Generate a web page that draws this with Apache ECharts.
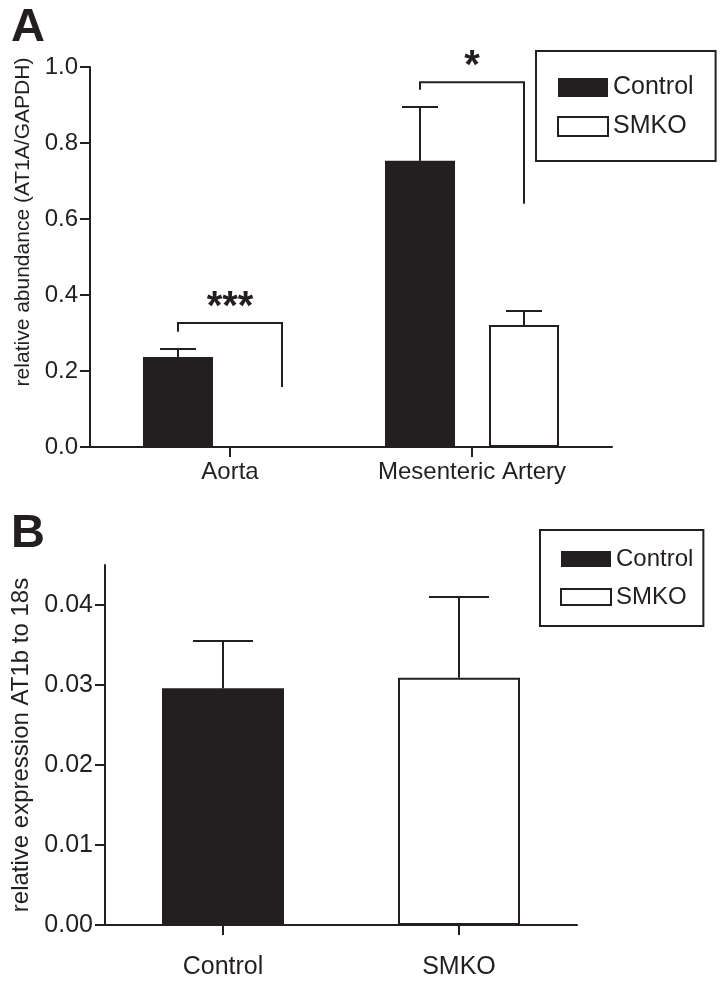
<!DOCTYPE html>
<html><head><meta charset="utf-8">
<script src="https://cdn.jsdelivr.net/npm/echarts@6/dist/echarts.min.js"></script>
<style>html,body{margin:0;padding:0;background:#fff}#c{width:726px;height:987px}</style>
</head><body><div id="c"></div>
<script>
// ---------- Panel A data ----------
const categoriesA = ['Aorta', 'Mesenteric Artery'];
const controlA = [0.237, 0.753];
const controlErrA = [0.258, 0.895];
const smkoA = [0, 0.321];
const smkoErrA = [null, 0.358];
const bracketTopA = [0.326, 0.96];
const bracketLeftEndA = [0.303, 0.94];
const bracketRightEndA = [0.158, 0.64];
const starsA = ['***', '*'];
const yTicksA = [0, 0.2, 0.4, 0.6, 0.8, 1.0];

// ---------- Panel B data ----------
const categoriesB = ['Control', 'SMKO'];
const valuesB = [0.0296, 0.0309];
const errB = [0.0355, 0.0410];
const yTicksB = [0, 0.01, 0.02, 0.03, 0.04];

const INK = '#231f20';
const FONT = '"Liberation Sans", Arial, Helvetica, sans-serif';

// style constants
const BAR_W_A = 70, GAP_A = 34;
const OFF_A = (BAR_W_A + GAP_A) / 2;
const CAP_A = 18;
const BAR_W_B = 122, CAP_B = 30;

function errRenderer(offset, capHalf) {
  return function (params, api) {
    const x = api.value(0), v = api.value(1), e = api.value(2);
    if (isNaN(e)) return null;
    const base = api.coord([x, v]);
    const top = api.coord([x, e]);
    const cx = base[0] + offset;
    return {
      type: 'group', children: [
        { type: 'line', shape: { x1: cx, y1: base[1], x2: cx, y2: top[1] }, style: { stroke: INK, lineWidth: 2 } },
        { type: 'line', shape: { x1: cx - capHalf, y1: top[1], x2: cx + capHalf, y2: top[1] }, style: { stroke: INK, lineWidth: 2 } }
      ]
    };
  };
}

function bracketRenderer(params, api) {
  const x = api.value(0);
  const pTop = api.coord([x, api.value(1)]);
  const pL = api.coord([x, api.value(2)]);
  const pR = api.coord([x, api.value(3)]);
  const xl = pTop[0] - OFF_A, xr = pTop[0] + OFF_A;
  return {
    type: 'group', children: [
      { type: 'polyline', shape: { points: [[xl, pL[1]], [xl, pTop[1]], [xr, pTop[1]], [xr, pR[1]]] },
        style: { stroke: INK, lineWidth: 2, fill: null } },
      { type: 'text', style: { x: (xl + xr) / 2, y: pTop[1] - 15, text: starsA[params.dataIndex],
        fill: INK, font: 'bold 40px ' + FONT, align: 'center', verticalAlign: 'middle' } }
    ]
  };
}

const chart = echarts.init(document.getElementById('c'), null, { renderer: 'canvas' });

const axisLineStyle = { show: true, onZero: false, lineStyle: { color: INK, width: 2 } };
const tickStyle = { show: true, length: 10, lineStyle: { color: INK, width: 2 } };

const option = {
  animation: false,
  backgroundColor: '#fff',
  title: [
    { text: 'A', left: 6, top: 0, textStyle: { fontSize: 47, fontWeight: 'bold', color: INK, fontFamily: FONT } },
    { text: 'B', left: 6, top: 506, textStyle: { fontSize: 47, fontWeight: 'bold', color: INK, fontFamily: FONT } }
  ],
  legend: [
    {
      left: 536, top: 51, orient: 'vertical', data: ['Control', 'SMKO'], icon: 'rect',
      itemWidth: 50, itemHeight: 19, itemGap: 14,
      borderColor: INK, borderWidth: 2, padding: [24, 22, 22, 21],
      textStyle: { fontSize: 25, color: INK, fontFamily: FONT },
      selectedMode: false
    },
    {
      left: 540, top: 530, orient: 'vertical', data: ['Control', 'SMKO'], icon: 'rect',
      itemWidth: 50, itemHeight: 16, itemGap: 14,
      borderColor: INK, borderWidth: 2, padding: [17, 10, 17, 20],
      textStyle: { fontSize: 24, color: INK, fontFamily: FONT },
      selectedMode: false
    }
  ],
  grid: [
    { left: 90, top: 67, width: 522, height: 380 },
    { left: 105, top: 565, width: 472, height: 360 }
  ],
  xAxis: [
    {
      gridIndex: 0, type: 'value', min: -0.5785, max: 1.5785,
      axisLine: axisLineStyle,
      axisTick: Object.assign({}, tickStyle, { customValues: [0, 1] }),
      axisLabel: { customValues: [0, 1], formatter: v => categoriesA[Math.round(v)] || '',
        fontSize: 24, color: INK, fontFamily: FONT, margin: 13 },
      splitLine: { show: false }
    },
    {
      gridIndex: 1, type: 'category', data: categoriesB, boundaryGap: true,
      axisLine: axisLineStyle,
      axisTick: Object.assign({}, tickStyle, { alignWithLabel: true }),
      axisLabel: { fontSize: 25, color: INK, fontFamily: FONT, margin: 30 },
      splitLine: { show: false }
    }
  ],
  yAxis: [
    {
      gridIndex: 0, type: 'value', min: 0, max: 1.0, interval: 0.2,
      name: 'relative abundance (AT1A/GAPDH)', nameLocation: 'middle', nameGap: 51,
      nameTextStyle: { fontSize: 21, color: INK, fontFamily: FONT, padding: [0, 0, 0, 70] },
      axisLine: axisLineStyle, axisTick: tickStyle,
      axisLabel: { formatter: v => v.toFixed(1), fontSize: 24, color: INK, fontFamily: FONT, margin: 12 },
      splitLine: { show: false }
    },
    {
      gridIndex: 1, type: 'value', min: 0, max: 0.045,
      name: 'relative expression AT1b to 18s', nameLocation: 'middle', nameGap: 66,
      nameTextStyle: { fontSize: 24, color: INK, fontFamily: FONT },
      axisLine: axisLineStyle,
      axisTick: Object.assign({}, tickStyle, { customValues: yTicksB }),
      axisLabel: { customValues: yTicksB, formatter: v => v.toFixed(2), fontSize: 25, color: INK, fontFamily: FONT, margin: 12 },
      splitLine: { show: false }
    }
  ],
  series: [
    // Panel A bars
    {
      name: 'Control', type: 'bar', xAxisIndex: 0, yAxisIndex: 0,
      barWidth: BAR_W_A, barGap: (GAP_A / BAR_W_A * 100) + '%',
      itemStyle: { color: INK, borderColor: INK, borderWidth: 0 },
      data: categoriesA.map((c, i) => [i, controlA[i]])
    },
    {
      name: 'SMKO', type: 'bar', xAxisIndex: 0, yAxisIndex: 0,
      barWidth: BAR_W_A, barGap: (GAP_A / BAR_W_A * 100) + '%',
      itemStyle: { color: '#fff', borderColor: INK, borderWidth: 2 },
      data: categoriesA.map((c, i) => [i, smkoA[i]])
    },
    {
      type: 'custom', xAxisIndex: 0, yAxisIndex: 0, z: 3, clip: false, silent: true,
      renderItem: errRenderer(-OFF_A, CAP_A),
      data: categoriesA.map((c, i) => [i, controlA[i], controlErrA[i] == null ? NaN : controlErrA[i]])
    },
    {
      type: 'custom', xAxisIndex: 0, yAxisIndex: 0, z: 3, clip: false, silent: true,
      renderItem: errRenderer(OFF_A, CAP_A),
      data: categoriesA.map((c, i) => [i, smkoA[i], smkoErrA[i] == null ? NaN : smkoErrA[i]])
    },
    {
      type: 'custom', xAxisIndex: 0, yAxisIndex: 0, z: 3, clip: false, silent: true,
      renderItem: bracketRenderer,
      data: categoriesA.map((c, i) => [i, bracketTopA[i], bracketLeftEndA[i], bracketRightEndA[i]])
    },
    // Panel B bars
    {
      name: 'Control', type: 'bar', xAxisIndex: 1, yAxisIndex: 1,
      barWidth: BAR_W_B, barGap: '-100%',
      itemStyle: { color: INK, borderColor: INK, borderWidth: 0 },
      data: valuesB.map((v, i) => i === 0 ? v : '-')
    },
    {
      name: 'SMKO', type: 'bar', xAxisIndex: 1, yAxisIndex: 1,
      barWidth: BAR_W_B, barGap: '-100%',
      itemStyle: { color: '#fff', borderColor: INK, borderWidth: 2 },
      data: valuesB.map((v, i) => i === 1 ? v : '-')
    },
    {
      type: 'custom', xAxisIndex: 1, yAxisIndex: 1, z: 3, clip: false, silent: true,
      renderItem: errRenderer(0, CAP_B),
      data: categoriesB.map((c, i) => [i, valuesB[i], errB[i]])
    }
  ]
};
chart.setOption(option);
</script>
</body></html>
